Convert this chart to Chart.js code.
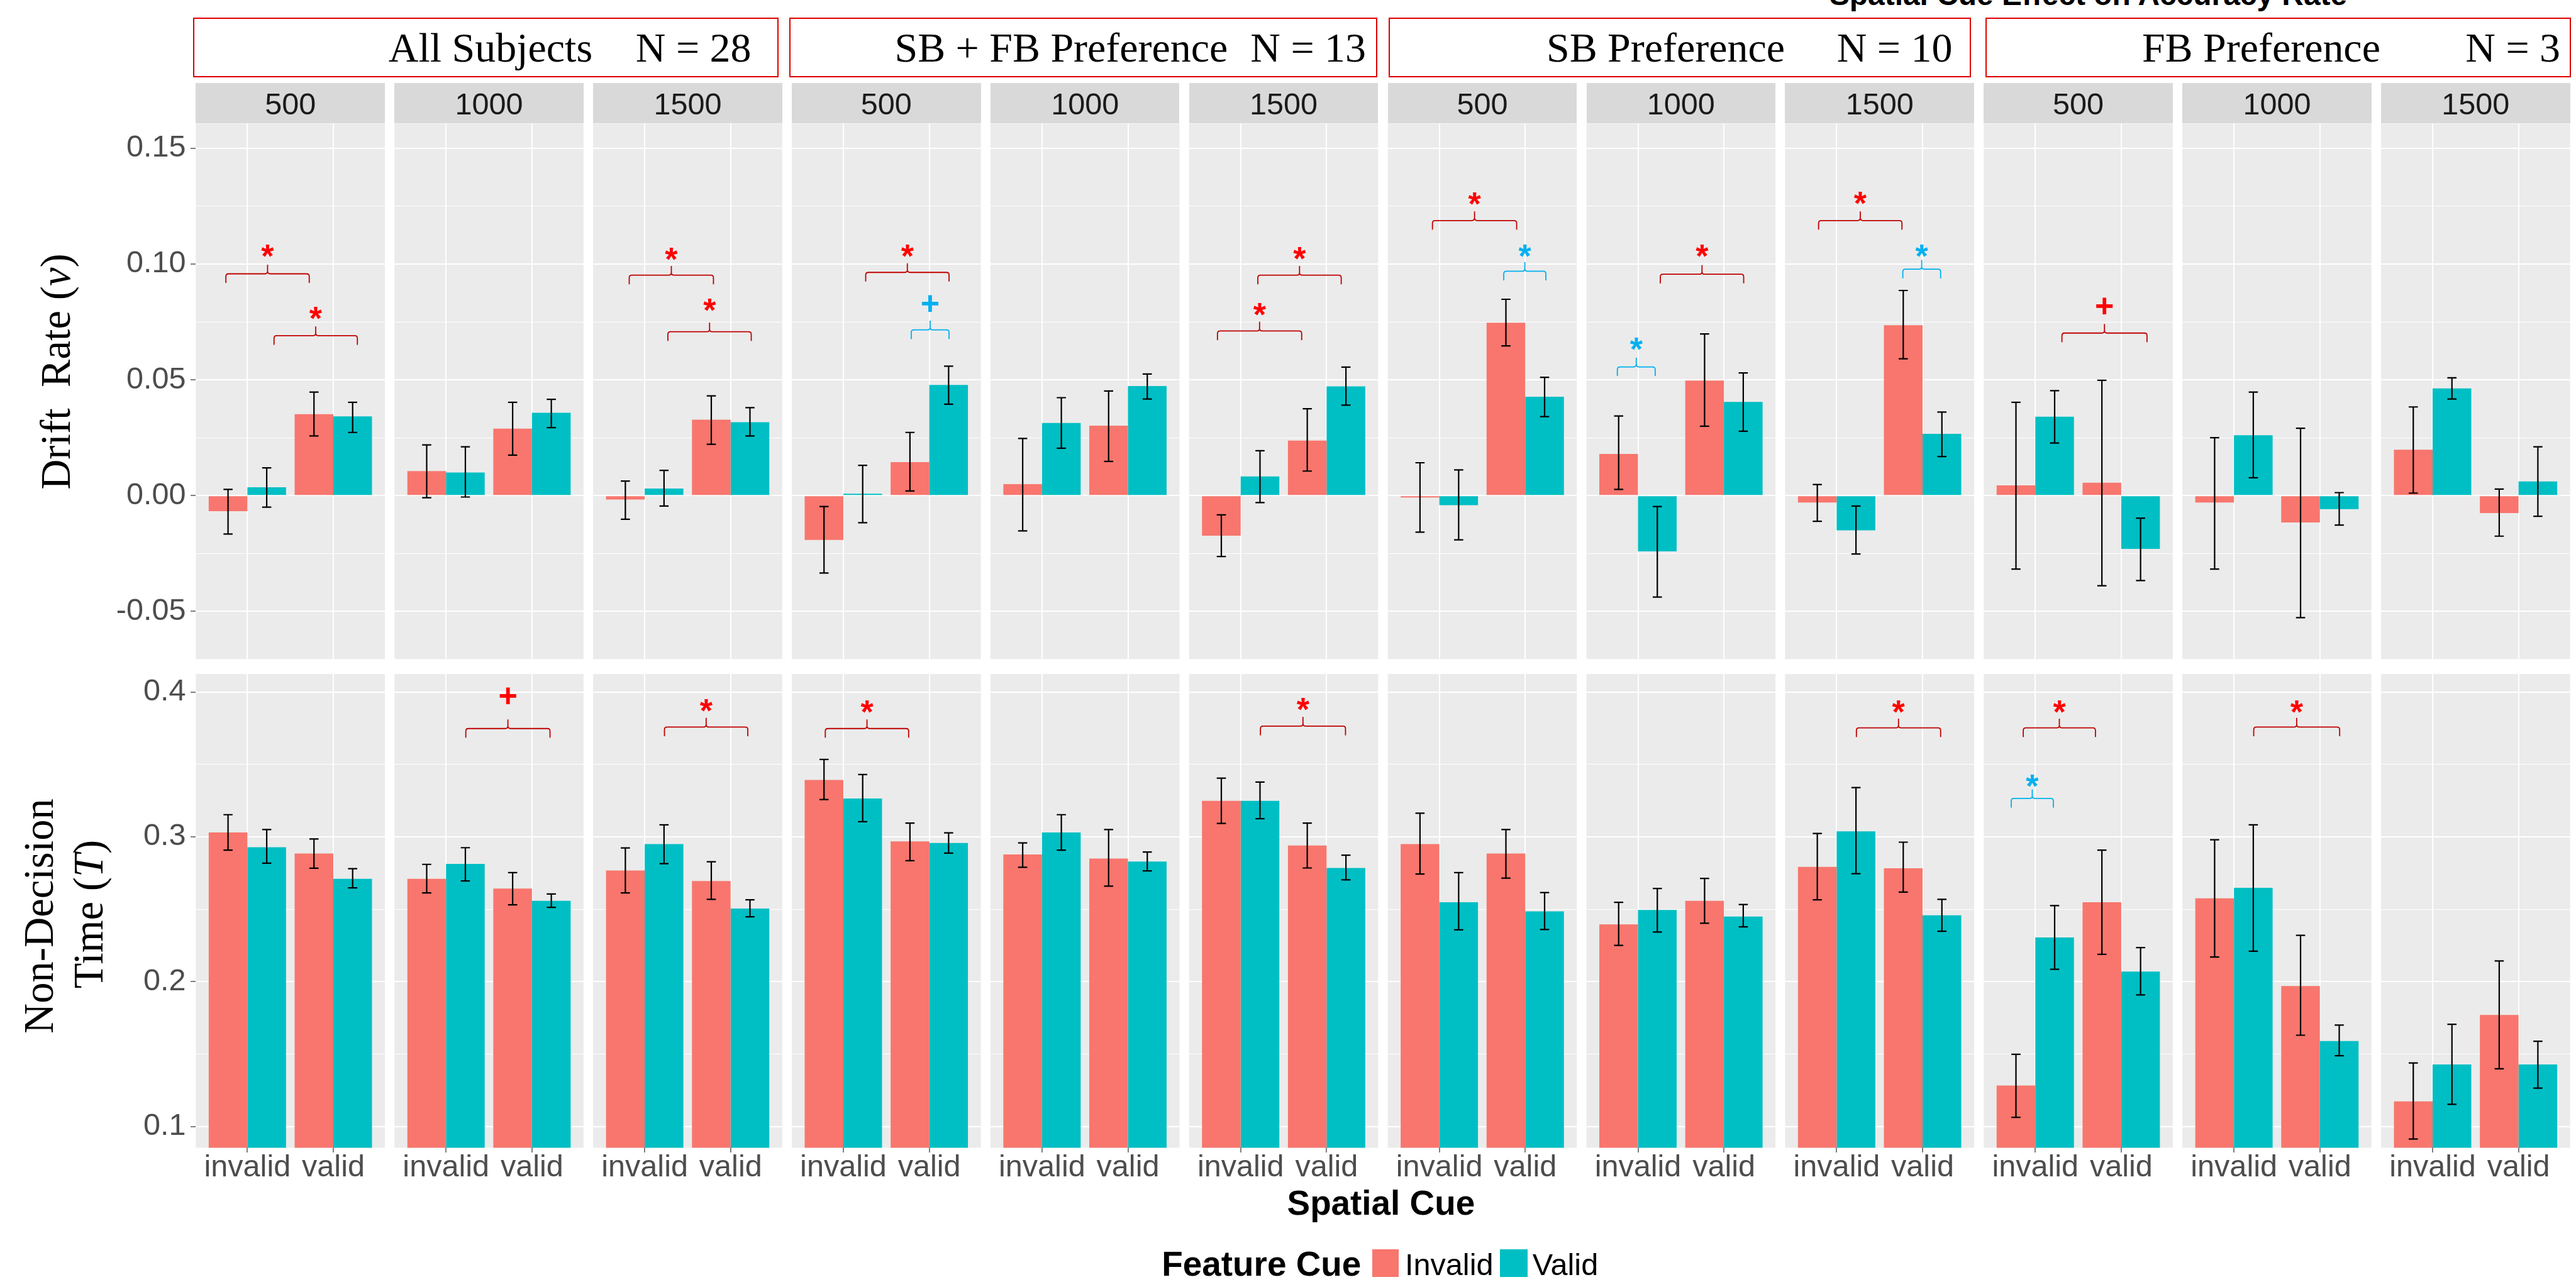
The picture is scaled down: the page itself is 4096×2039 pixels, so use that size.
<!DOCTYPE html>
<html>
<head>
<meta charset="utf-8">
<title>Drift rate and non-decision time by spatial and feature cue</title>
<script src="https://cdn.jsdelivr.net/npm/chart.js@4.4.1/dist/chart.umd.min.js"></script>
<style>
  html, body { margin:0; padding:0; background:#fff; }
  #page { position:relative; width:4096px; height:2039px; overflow:hidden; background:#fff; }
  .t { position:absolute; white-space:pre; line-height:1; margin:0; }
  .box { position:absolute; box-sizing:border-box; border:2px solid #E00000; background:#fff; }
  .strip { position:absolute; background:#D9D9D9; }
  .key { position:absolute; }
  canvas { position:absolute; }
</style>
</head>
<body>
<div id="page"></div>
<script>
// ------------------------------------------------------------------ data
const groupNames  = ['All Subjects', 'SB + FB Preference', 'SB Preference', 'FB Preference'];
const groupCounts = ['N = 28', 'N = 13', 'N = 10', 'N = 3'];
const soaLabels   = ['500', '1000', '1500'];
const spatialCues = ['invalid', 'valid'];
const featureCues = ['Invalid', 'Valid'];
const chartTitle  = 'Spatial Cue Effect on Accuracy Rate';
const xTitle      = 'Spatial Cue';
const legendTitle = 'Feature Cue';

const driftTicks      = [-0.05, 0, 0.05, 0.10, 0.15];
const driftTickLabels = ['-0.05', '0.00', '0.05', '0.10', '0.15'];
const driftMinor      = [-0.025, 0.025, 0.075, 0.125];
const driftRange      = [-0.0706, 0.1607];
const ndtTicks        = [0.1, 0.2, 0.3, 0.4];
const ndtTickLabels   = ['0.1', '0.2', '0.3', '0.4'];
const ndtMinor        = [0.15, 0.25, 0.35];
const ndtRange        = [0.0853, 0.4125];

// one pair per panel (12 panels: group x SOA); pair = [spatial invalid, spatial valid]
// Drift rate, feature cue Invalid
const driftInv   = [[-0.0067,0.0352],[0.0106,0.0289],[-0.0017,0.0328],[-0.0191,0.0145],[0.0050,0.0302],[-0.0173,0.0238],
                    [-0.0008,0.0747],[0.0180,0.0497],[-0.0030,0.0736],[0.0044,0.0056],[-0.0030,-0.0116],[0.0198,-0.0075]];
const driftInvLo = [[-0.0166,0.0258],[-0.0009,0.0175],[-0.0102,0.0222],[-0.0334,0.0020],[-0.0152,0.0148],[-0.0263,0.0106],
                    [-0.0158,0.0647],[0.0027,0.0300],[-0.0111,0.0591],[-0.0317,-0.0389],[-0.0317,-0.0527],[0.0011,-0.0175]];
const driftInvHi = [[0.0027,0.0447],[0.0219,0.0403],[0.0063,0.0431],[-0.0047,0.0273],[0.0247,0.0452],[-0.0083,0.0375],
                    [0.0142,0.0848],[0.0344,0.0698],[0.0048,0.0886],[0.0403,0.0498],[0.0250,0.0291],[0.0383,0.0028]];
// Drift rate, feature cue Valid
const driftVal   = [[0.0036,0.0342],[0.0100,0.0358],[0.0031,0.0317],[0.0008,0.0478],[0.0314,0.0473],[0.0083,0.0472],
                    [-0.0041,0.0427],[-0.0241,0.0405],[-0.0150,0.0267],[0.0341,-0.0230],[0.0261,-0.0058],[0.0463,0.0061]];
const driftValLo = [[-0.0050,0.0273],[-0.0006,0.0294],[-0.0045,0.0258],[-0.0117,0.0395],[0.0205,0.0417],[-0.0030,0.0391],
                    [-0.0191,0.0341],[-0.0438,0.0278],[-0.0252,0.0169],[0.0227,-0.0367],[0.0077,-0.0127],[0.0417,-0.0089]];
const driftValHi = [[0.0120,0.0403],[0.0211,0.0416],[0.0109,0.0380],[0.0131,0.0559],[0.0423,0.0525],[0.0194,0.0555],
                    [0.0111,0.0511],[-0.0047,0.0530],[-0.0045,0.0361],[0.0453,-0.0097],[0.0447,0.0013],[0.0509,0.0211]];
// Non-decision time, feature cue Invalid
const ndtInv   = [[0.3030,0.2885],[0.2710,0.2643],[0.2768,0.2695],[0.3393,0.2968],[0.2878,0.2850],[0.3248,0.2940],
                  [0.2950,0.2885],[0.2395,0.2558],[0.2793,0.2783],[0.1283,0.2548],[0.2575,0.1970],[0.1173,0.1770]];
const ndtInvLo = [[0.2908,0.2783],[0.2613,0.2530],[0.2613,0.2568],[0.3258,0.2835],[0.2790,0.2660],[0.3093,0.2785],
                  [0.2743,0.2715],[0.2250,0.2403],[0.2565,0.2618],[0.1063,0.2188],[0.2170,0.1630],[0.0913,0.1398]];
const ndtInvHi = [[0.3153,0.2985],[0.2810,0.2753],[0.2923,0.2828],[0.3535,0.3095],[0.2958,0.3050],[0.3405,0.3095],
                  [0.3163,0.3050],[0.2548,0.2713],[0.3023,0.2963],[0.1498,0.2908],[0.2980,0.2320],[0.1438,0.2143]];
// Non-decision time, feature cue Valid
const ndtVal   = [[0.2928,0.2710],[0.2813,0.2558],[0.2950,0.2505],[0.3265,0.2958],[0.3030,0.2830],[0.3248,0.2785],
                  [0.2548,0.2485],[0.2495,0.2450],[0.3038,0.2458],[0.2305,0.2070],[0.2648,0.1590],[0.1428,0.1428]];
const ndtValLo = [[0.2818,0.2648],[0.2695,0.2513],[0.2815,0.2448],[0.3105,0.2888],[0.2908,0.2765],[0.3125,0.2703],
                  [0.2358,0.2360],[0.2343,0.2378],[0.2745,0.2348],[0.2085,0.1908],[0.2210,0.1488],[0.1153,0.1265]];
const ndtValHi = [[0.3050,0.2780],[0.2925,0.2605],[0.3083,0.2565],[0.3430,0.3028],[0.3153,0.2895],[0.3378,0.2873],
                  [0.2753,0.2615],[0.2643,0.2533],[0.3340,0.2568],[0.2525,0.2235],[0.3083,0.1700],[0.1705,0.1588]];

// significance marks: [panel, from x, to x, bracket level, symbol level, symbol, effect (S = spatial, F = feature)]
const driftMarks = [
  [0, 0.75, 1.72, 0.0958, 0.1067, '*', 'S'], [0, 1.31, 2.28, 0.0691, 0.0798, '*', 'S'],
  [2, 0.82, 1.80, 0.0952, 0.1055, '*', 'S'], [2, 1.27, 2.24, 0.0708, 0.0833, '*', 'S'],
  [3, 1.26, 2.23, 0.0964, 0.1067, '*', 'S'], [3, 1.79, 2.23, 0.0716, 0.0830, '+', 'F'],
  [5, 0.73, 1.71, 0.0711, 0.0816, '*', 'S'], [5, 1.20, 2.17, 0.0952, 0.1056, '*', 'S'],
  [6, 0.92, 1.90, 0.1188, 0.1294, '*', 'S'], [6, 1.75, 2.24, 0.0969, 0.1069, '*', 'F'],
  [7, 0.76, 1.20, 0.0556, 0.0666, '*', 'F'], [7, 1.26, 2.23, 0.0956, 0.1069, '*', 'S'],
  [8, 0.79, 1.76, 0.1188, 0.1295, '*', 'S'], [8, 1.77, 2.21, 0.0978, 0.1069, '*', 'F'],
  [9, 1.31, 2.30, 0.0702, 0.0820, '+', 'S']
];
const ndtMarks = [
  [1, 1.23, 2.21, 0.3748, 0.3975, '+', 'S'],
  [2, 1.23, 2.20, 0.3758, 0.3925, '*', 'S'],
  [3, 0.79, 1.76, 0.3748, 0.3915, '*', 'S'],
  [5, 1.23, 2.22, 0.3765, 0.3933, '*', 'S'],
  [8, 1.23, 2.21, 0.3753, 0.3915, '*', 'S'],
  [9, 0.86, 1.70, 0.3753, 0.3915, '*', 'S'],
  [9, 0.72, 1.21, 0.3265, 0.3405, '*', 'F'],
  [10, 1.23, 2.23, 0.3758, 0.3915, '*', 'S']
];

// ------------------------------------------------------------------ styles & layout
const SANS  = '"Liberation Sans", Arial, sans-serif';
const SERIF = '"Liberation Serif", "Times New Roman", serif';
const S = 4096 / 5900;            // reference px -> page px
const R = v => v * S;
const FILL = ['#F8766D', '#00BFC4'];
const MARK_STYLE = { S: { line: '#C00000', sym: '#FF0000' }, F: { line: '#00B0F0', sym: '#00B0F0' } };
const TICK_SIZE = R(70);

const PANEL_LEFT = 448.5, PANEL_PITCH = 455, PANEL_W = 433;
const ROWS = [{ y0: 283, y1: 1510 }, { y0: 1544, y1: 2629.4 }];
const STRIP = { y0: 190, y1: 283, base: 263 };
const BOX = { y0: 41, y1: 177, base: 142 };
const BOX_X = [[442, 1783], [1808, 3155], [3181, 4515], [4547, 5888]];
const BOX_TEXT_X = [[890, 1456], [2049, 2864], [3542, 4207], [4906, 5647]];

Chart.defaults.font.family = SANS;

const page = document.getElementById('page');

function text(html, o) {
  const d = document.createElement('div');
  d.className = 't';
  d.innerHTML = html;
  const size = o.size;
  d.style.fontFamily = o.serif ? SERIF : SANS;
  d.style.fontSize = size + 'px';
  d.style.fontWeight = o.bold ? '700' : '400';
  d.style.color = o.color || '#000';
  const asc = o.serif ? 0.8374 : 0.8465;
  if (o.rotate) {
    const cx = o.baseX - (asc - 0.5) * size;
    d.style.left = cx + 'px';
    d.style.top = o.cy + 'px';
    d.style.transform = 'translate(-50%,-50%) rotate(-90deg)';
  } else {
    d.style.top = (o.base - asc * size) + 'px';
    d.style.left = o.x + 'px';
    if (o.center) d.style.transform = 'translateX(-50%)';
  }
  page.appendChild(d);
  return d;
}
function rect(cls, x0, y0, x1, y1, color) {
  const d = document.createElement('div');
  d.className = cls;
  d.style.left = x0 + 'px'; d.style.top = y0 + 'px';
  d.style.width = (x1 - x0) + 'px'; d.style.height = (y1 - y0) + 'px';
  if (color) d.style.background = color;
  page.appendChild(d);
  return d;
}

// ------------------------------------------------------------------ headers and strips
text(chartTitle, { x: R(4783), base: R(12), size: R(69), bold: true, center: true });
groupNames.forEach((g, i) => {
  rect('box', R(BOX_X[i][0]), R(BOX.y0), R(BOX_X[i][1]), R(BOX.y1));
  text(g, { x: R(BOX_TEXT_X[i][0]), base: R(BOX.base), size: R(95), serif: true });
  text(groupCounts[i], { x: R(BOX_TEXT_X[i][1]), base: R(BOX.base), size: R(95), serif: true });
});
for (let p = 0; p < 12; p++) {
  const L = PANEL_LEFT + PANEL_PITCH * p;
  rect('strip', R(L), R(STRIP.y0), R(L + PANEL_W), R(STRIP.y1));
  text(soaLabels[p % 3], { x: R(L + PANEL_W / 2), base: R(STRIP.base), size: TICK_SIZE, color: '#1A1A1A', center: true });
}

// axis titles
text('Drift  Rate (<i>v</i>)', { rotate: true, baseX: R(161), cy: R(851), size: R(96), serif: true });
text('Non-Decision', { rotate: true, baseX: R(121), cy: R(2098), size: R(96), serif: true });
text('Time (<i>T</i>)', { rotate: true, baseX: R(235), cy: R(2094), size: R(96), serif: true });
text(xTitle, { x: R(3163), base: R(2783), size: R(79), bold: true, center: true });

// legend
text(legendTitle, { x: R(2661), base: R(2923), size: R(79), bold: true });
rect('key', R(3143), R(2862), R(3203), R(2925), FILL[0]);
text(featureCues[0], { x: R(3218), base: R(2922), size: R(70) });
rect('key', R(3436), R(2862), R(3499), R(2925), FILL[1]);
text(featureCues[1], { x: R(3510), base: R(2922), size: R(70) });

// ------------------------------------------------------------------ chart plugins
const panelBg = {
  id: 'panelBg',
  beforeDraw(chart) {
    const { ctx, chartArea: a } = chart;
    ctx.save();
    ctx.fillStyle = '#EBEBEB';
    ctx.fillRect(a.left, a.top, a.right - a.left, a.bottom - a.top);
    ctx.restore();
  }
};
const errorBars = {
  id: 'errorBars',
  afterDatasetsDraw(chart) {
    const ctx = chart.ctx, ys = chart.scales.y;
    const half = R(10.5);
    ctx.save();
    ctx.strokeStyle = '#000';
    ctx.lineWidth = R(3.2);
    chart.data.datasets.forEach((ds, d) => {
      chart.getDatasetMeta(d).data.forEach((bar, j) => {
        const x = bar.x;
        const lo = ys.getPixelForValue(ds.errLo[j]);
        const hi = ys.getPixelForValue(ds.errHi[j]);
        ctx.beginPath();
        ctx.moveTo(x, lo); ctx.lineTo(x, hi);
        ctx.moveTo(x - half, lo); ctx.lineTo(x + half, lo);
        ctx.moveTo(x - half, hi); ctx.lineTo(x + half, hi);
        ctx.stroke();
      });
    });
    ctx.restore();
  }
};
function sigPlugin(list) {
  return {
    id: 'sigMarks',
    afterDatasetsDraw(chart) {
      const ctx = chart.ctx, xs = chart.scales.x, ys = chart.scales.y;
      const t = R(21), s = R(21), r = R(6);
      const fs = R(75);
      ctx.save();
      list.forEach(m => {
        const a = m[1], b = m[2], lvl = m[3], symLvl = m[4], sym = m[5], st = MARK_STYLE[m[6]];
        const x1 = xs.getPixelForValue(a), x2 = xs.getPixelForValue(b);
        const xm = (x1 + x2) / 2, y = ys.getPixelForValue(lvl);
        ctx.strokeStyle = st.line;
        ctx.lineWidth = R(2.6);
        ctx.beginPath();
        ctx.moveTo(x1, y + t);
        ctx.lineTo(x1, y + r);
        ctx.quadraticCurveTo(x1, y, x1 + r, y);
        ctx.lineTo(xm - r, y);
        ctx.quadraticCurveTo(xm, y, xm, y - r);
        ctx.lineTo(xm, y - s);
        ctx.moveTo(xm, y - r);
        ctx.quadraticCurveTo(xm, y, xm + r, y);
        ctx.lineTo(x2 - r, y);
        ctx.quadraticCurveTo(x2, y, x2, y + r);
        ctx.lineTo(x2, y + t);
        ctx.stroke();
        const yc = ys.getPixelForValue(symLvl);
        ctx.fillStyle = st.sym;
        ctx.font = '700 ' + fs + 'px ' + SANS;
        ctx.textAlign = 'center';
        ctx.textBaseline = 'alphabetic';
        const k = sym === '*' ? 0.575 : 0.335;
        ctx.fillText(sym, xm, yc + k * fs);
      });
      ctx.restore();
    }
  };
}

// ------------------------------------------------------------------ panels
function near(v, arr) { return arr.findIndex(a => Math.abs(a - v) < 1e-9); }

function makePanel(row, p) {
  const isDrift = row === 0;
  const L = R(PANEL_LEFT + PANEL_PITCH * p), W = R(PANEL_W);
  const T = R(ROWS[row].y0), B = R(ROWS[row].y1);
  const M = 60;
  const axisW = p === 0 ? L : 0;
  const axisH = isDrift ? 0 : R(110);
  const cx0 = p === 0 ? 0 : Math.floor(L - M);
  const cy0 = Math.floor(T - M);
  const cx1 = Math.ceil(L + W + M);
  const cy1 = Math.ceil(B + axisH + M);
  const canvas = document.createElement('canvas');
  canvas.width = cx1 - cx0; canvas.height = cy1 - cy0;
  canvas.style.left = cx0 + 'px'; canvas.style.top = cy0 + 'px';
  canvas.style.width = canvas.width + 'px'; canvas.style.height = canvas.height + 'px';
  page.appendChild(canvas);
  const pad = { left: p === 0 ? 0 : L - cx0, top: T - cy0, right: cx1 - (L + W), bottom: cy1 - (B + axisH) };

  const major = isDrift ? driftTicks : ndtTicks;
  const majorLabels = isDrift ? driftTickLabels : ndtTickLabels;
  const minor = isDrift ? driftMinor : ndtMinor;
  const range = isDrift ? driftRange : ndtRange;
  const src = isDrift
    ? [[driftInv, driftInvLo, driftInvHi], [driftVal, driftValLo, driftValHi]]
    : [[ndtInv, ndtInvLo, ndtInvHi], [ndtVal, ndtValLo, ndtValHi]];
  const marks = (isDrift ? driftMarks : ndtMarks).filter(m => m[0] === p);
  const allTicks = major.concat(minor).sort((a, b) => a - b);

  new Chart(canvas, {
    type: 'bar',
    data: {
      datasets: featureCues.map((fc, d) => ({
        label: fc,
        data: spatialCues.map((c, i) => ({ x: i + 1, y: src[d][0][p][i] })),
        errLo: src[d][1][p],
        errHi: src[d][2][p],
        backgroundColor: FILL[d],
        borderWidth: 0,
        categoryPercentage: 0.9,
        barPercentage: 1.0,
        clip: 0
      }))
    },
    options: {
      responsive: false,
      animation: false,
      devicePixelRatio: 1,
      events: [],
      layout: { padding: pad },
      plugins: { legend: { display: false }, tooltip: { enabled: false } },
      scales: {
        x: {
          type: 'linear', min: 0.4, max: 2.6, bounds: 'data', offset: false,
          afterBuildTicks: sc => { sc.ticks = spatialCues.map((c, i) => ({ value: i + 1 })); },
          afterFit: sc => { sc.height = axisH; },
          border: { display: false },
          grid: { offset: false, color: '#FFFFFF', lineWidth: R(2.8), drawTicks: !isDrift, tickLength: R(11), tickColor: '#333333', tickWidth: R(1.8) },
          ticks: {
            display: !isDrift, autoSkip: false, maxRotation: 0, padding: 0.5,
            color: '#4D4D4D', font: { family: SANS, size: TICK_SIZE, lineHeight: 1 },
            callback: v => spatialCues[Math.round(v) - 1]
          }
        },
        y: {
          type: 'linear', min: range[0], max: range[1], bounds: 'data', offset: false,
          afterBuildTicks: sc => { sc.ticks = allTicks.map(v => ({ value: v, minor: near(v, major) < 0 })); },
          afterFit: sc => { sc.width = axisW; },
          border: { display: false },
          grid: {
            color: '#FFFFFF',
            lineWidth: c => (c.tick && c.tick.minor) ? R(1.6) : R(2.8),
            drawTicks: p === 0, tickLength: R(12),
            tickColor: c => (c.tick && c.tick.minor) ? 'rgba(0,0,0,0)' : '#333333',
            tickWidth: R(1.8)
          },
          ticks: {
            display: p === 0, autoSkip: false, padding: 7.6,
            color: '#4D4D4D', font: { family: SANS, size: TICK_SIZE },
            callback: v => { const k = near(v, major); return k < 0 ? '' : majorLabels[k]; }
          }
        }
      }
    },
    plugins: [panelBg, errorBars, sigPlugin(marks)]
  });
}

for (let row = 0; row < 2; row++) for (let p = 0; p < 12; p++) makePanel(row, p);
</script>
</body>
</html>
